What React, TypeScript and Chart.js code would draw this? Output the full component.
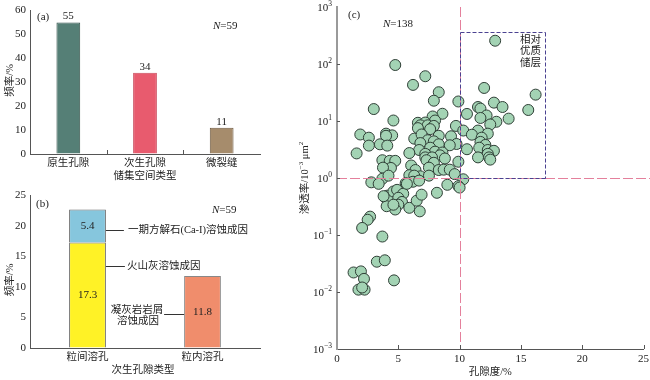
import React, { useEffect, useRef } from 'react';
import { Chart, registerables } from 'chart.js';
Chart.register(...registerables);

const FONT = '"Liberation Serif", "Noto Sans CJK SC", serif';
const TXT = '#222222';
const AXIS = '#555555';

// ---------- Panel (a) ----------
const spaceTypes = ['原生孔隙', '次生孔隙', '微裂缝'];
const spaceFreq = [55, 34, 11];
const spaceColors = ['#557f76', '#e85b6e', '#a68c6c'];
const spaceBorders = ['#33524b', '#c94a5c', '#6f5a40'];

// ---------- Panel (b) ----------
const dissTypes = ['粒间溶孔', '粒内溶孔'];
const volcanicAsh = [17.3, null];
const calciteI = [5.4, null];
const tuffDebris = [null, 11.8];
const calloutCalcite = 19.4;
const calloutAsh = 13.5;
const calloutTuff = 5.6;

// ---------- Panel (c) ----------
const porosity = [
  12.9, 4.75, 7.2, 6.2, 12.0, 8.3, 16.2, 7.9, 9.9, 12.8, 13.5, 11.5, 3.0, 11.7, 15.6, 10.6, 8.6, 12.2, 7.8, 11.7,
  14.0, 4.6, 13.0, 6.6, 7.2, 8.0, 12.5, 6.8, 9.7, 7.4, 7.9, 6.6, 7.6, 10.3, 11.5, 1.9, 4.0, 4.5, 4.0, 11.0,
  8.3, 9.3, 12.3, 2.6, 6.3, 6.9, 11.8, 7.4, 11.7, 7.9, 6.8, 8.3, 3.5, 9.75, 12.1, 2.6, 4.1, 9.2, 11.6, 7.6,
  6.7, 8.0, 10.6, 12.3, 12.8, 1.6, 5.9, 7.2, 8.6, 8.4, 12.3, 7.2, 11.5, 12.4, 7.75, 3.7, 4.3, 4.75, 7.3, 8.8,
  9.9, 12.5, 7.9, 4.4, 3.75, 6.05, 7.5, 8.3, 8.7, 9.2, 6.4, 9.6, 3.7, 4.2, 5.9, 6.8, 7.5, 6.3, 10.3, 2.8,
  3.4, 5.6, 6.2, 9.0, 9.9, 10.0, 4.1, 3.95, 4.3, 4.6, 4.9, 5.4, 5.0, 5.3, 5.0, 4.75, 4.05, 4.6, 5.9, 6.5,
  6.9, 6.75, 8.15, 3.8, 5.7, 6.7, 2.7, 2.5, 2.05, 3.7, 3.25, 3.9, 1.35, 1.95, 2.2, 4.65, 1.75, 2.25, 2.05,
];
const permeability = [
  256, 96, 61, 43, 38, 32, 29, 22.7, 22, 21, 17.6, 17.6, 16.2, 16.5, 15.6, 13.3, 13.4, 12.5, 12, 11.3,
  11, 10.2, 9.7, 9.3, 9.4, 10.2, 8.7, 8.4, 8.2, 8.4, 8.2, 7.5, 7.2, 6.8, 6.8, 5.8, 6.0, 5.6, 5.5, 5.75,
  5.5, 5.4, 6.0, 5.1, 4.9, 5.8, 5.1, 4.6, 4.3, 4.4, 4.1, 3.9, 3.9, 3.95, 3.8, 3.7, 3.7, 3.75, 3.4, 3.4,
  3.1, 2.9, 3.2, 3.1, 3.0, 2.7, 2.74, 2.65, 2.8, 2.5, 2.65, 2.3, 2.3, 2.3, 2.3, 2.05, 2.0, 2.0, 2.05, 2.2,
  1.93, 2.1, 1.85, 1.5, 1.52, 1.66, 1.52, 1.38, 1.4, 1.4, 1.38, 1.17, 0.97, 1.1, 1.12, 1.07, 1.1, 1.1, 0.95, 0.84,
  0.79, 0.81, 0.86, 0.76, 0.72, 0.68, 0.49, 0.45, 0.45, 0.58, 0.62, 0.53, 0.45, 0.38, 0.34, 0.28, 0.32, 0.34, 0.30, 0.40,
  0.51, 0.26, 0.55, 0.48, 0.79, 0.9, 0.21, 0.185, 0.133, 0.094, 0.034, 0.036, 0.022, 0.023, 0.017, 0.016, 0.011, 0.011, 0.012,
];
const permTicks = [0.001, 0.01, 0.1, 1, 10, 100, 1000];
const cutPorosity = 10;
const cutPerm = 1;
const goodBoxPorosity = [10, 17];
const goodBoxPerm = [1, 370];

type Part = { t: string; sup?: boolean };

function partsWidth(ctx: CanvasRenderingContext2D, parts: Part[], size: number, supSize: number) {
  let w = 0;
  for (const p of parts) {
    ctx.font = `${p.sup ? supSize : size}px ${FONT}`;
    w += ctx.measureText(p.t).width;
  }
  return w;
}

function drawParts(ctx: CanvasRenderingContext2D, parts: Part[], x: number, y: number, size: number, supSize: number) {
  ctx.textAlign = 'left';
  ctx.textBaseline = 'middle';
  let cx = x;
  for (const p of parts) {
    ctx.font = `${p.sup ? supSize : size}px ${FONT}`;
    ctx.fillText(p.t, cx, p.sup ? y - size * 0.35 : y);
    cx += ctx.measureText(p.t).width;
  }
}

function drawRotated(ctx: CanvasRenderingContext2D, parts: Part[], cx: number, cy: number, size = 11, supSize = 7.5) {
  ctx.save();
  ctx.translate(cx, cy);
  ctx.rotate(-Math.PI / 2);
  const w = partsWidth(ctx, parts, size, supSize);
  drawParts(ctx, parts, -w / 2, 0, size, supSize);
  ctx.restore();
}

function drawN(ctx: CanvasRenderingContext2D, x: number, y: number, rest: string) {
  ctx.textAlign = 'left';
  ctx.textBaseline = 'middle';
  ctx.font = `italic 11px ${FONT}`;
  ctx.fillText('N', x, y);
  const w = ctx.measureText('N').width;
  ctx.font = `11px ${FONT}`;
  ctx.fillText(rest, x + w, y);
}

function line(ctx: CanvasRenderingContext2D, x1: number, y1: number, x2: number, y2: number) {
  ctx.beginPath();
  ctx.moveTo(x1, y1);
  ctx.lineTo(x2, y2);
  ctx.stroke();
}

const baseAxisFont = { family: FONT, size: 11 };

function makeA(canvas: HTMLCanvasElement) {
  const plugin = {
    id: 'panelA',
    afterDraw(chart: any) {
      const { ctx, chartArea: ca, scales } = chart;
      const x = scales.x;
      ctx.save();
      ctx.strokeStyle = AXIS;
      ctx.lineWidth = 1;
      for (let i = 1; i < spaceTypes.length; i++) {
        const bx = Math.round((x.getPixelForValue(i - 1) + x.getPixelForValue(i)) / 2) + 0.5;
        line(ctx, bx, ca.bottom, bx, ca.bottom - 4);
      }
      ctx.fillStyle = TXT;
      ctx.font = `11px ${FONT}`;
      ctx.textAlign = 'center';
      ctx.textBaseline = 'bottom';
      chart.getDatasetMeta(0).data.forEach((bar: any, i: number) => {
        ctx.fillText(String(spaceFreq[i]), bar.x, bar.y - 0.5);
      });
      drawRotated(ctx, [{ t: '频率/%' }], 10, (ca.top + ca.bottom) / 2 - 2, 10.5);
      ctx.font = `10.5px ${FONT}`;
      ctx.textAlign = 'center';
      ctx.textBaseline = 'middle';
      ctx.fillText('储集空间类型', (ca.left + ca.right) / 2, ca.bottom + 22);
      ctx.font = `11px ${FONT}`;
      ctx.textAlign = 'left';
      ctx.fillText('(a)', ca.left + 7, ca.top + 7);
      drawN(ctx, ca.left + 183, ca.top + 16, '=59');
      ctx.restore();
    },
  };
  return new Chart(canvas, {
    type: 'bar',
    data: {
      labels: spaceTypes,
      datasets: [
        {
          data: spaceFreq,
          backgroundColor: spaceColors,
          borderColor: spaceBorders,
          borderWidth: 1,
          barPercentage: 0.31,
          categoryPercentage: 1,
        },
      ],
    },
    options: {
      responsive: false,
      animation: false,
      layout: { padding: { top: 8, right: 25, left: 0, bottom: 0 } },
      plugins: { legend: { display: false }, tooltip: { enabled: false } },
      scales: {
        x: {
          grid: { drawOnChartArea: false, drawTicks: false },
          border: { color: AXIS },
          ticks: { font: { family: FONT, size: 10.5 }, color: TXT, padding: 3 },
          afterFit: (s: any) => { s.height = 31; s.paddingLeft = 0; s.paddingRight = 0; },
        },
        y: {
          min: 0,
          max: 60,
          ticks: { stepSize: 10, font: baseAxisFont, color: TXT, padding: 4 },
          grid: { drawOnChartArea: false, drawTicks: false },
          border: { color: AXIS },
          afterFit: (s: any) => { s.width = 30; },
        },
      },
    },
    plugins: [plugin],
  } as any);
}

function makeB(canvas: HTMLCanvasElement) {
  const plugin = {
    id: 'panelB',
    afterDraw(chart: any) {
      const { ctx, chartArea: ca, scales } = chart;
      const y = scales.y;
      ctx.save();
      ctx.fillStyle = TXT;
      ctx.font = `11px ${FONT}`;
      ctx.textAlign = 'center';
      ctx.textBaseline = 'middle';
      const vals = [volcanicAsh, calciteI, tuffDebris];
      vals.forEach((arr, d) => {
        chart.getDatasetMeta(d).data.forEach((bar: any, i: number) => {
          const v = arr[i];
          if (v == null) return;
          ctx.fillText(v.toFixed(1), bar.x, (bar.y + bar.base) / 2);
        });
      });
      const bar1 = chart.getDatasetMeta(0).data[0] as any;
      const bar2 = chart.getDatasetMeta(2).data[1] as any;
      const r1 = bar1.x + bar1.width / 2;
      const l2 = bar2.x - bar2.width / 2;
      ctx.strokeStyle = '#333';
      ctx.lineWidth = 1;
      const yc = Math.round(y.getPixelForValue(calloutCalcite)) + 0.5;
      line(ctx, r1, yc, r1 + 18, yc);
      const ya = Math.round(y.getPixelForValue(calloutAsh)) + 0.5;
      line(ctx, r1, ya, r1 + 19, ya);
      const yt = Math.round(y.getPixelForValue(calloutTuff)) + 0.5;
      line(ctx, l2 - 20, yt, l2, yt);
      ctx.font = `10.5px ${FONT}`;
      ctx.textAlign = 'left';
      ctx.fillText('一期方解石(Ca-I)溶蚀成因', r1 + 22, yc);
      ctx.fillText('火山灰溶蚀成因', r1 + 21, ya);
      ctx.textAlign = 'center';
      ctx.fillText('凝灰岩岩屑', l2 - 47, yt - 4);
      ctx.fillText('溶蚀成因', l2 - 46, yt + 7);
      drawRotated(ctx, [{ t: '频率/%' }], 10, (ca.top + ca.bottom) / 2 + 8, 10.5);
      ctx.font = `10.5px ${FONT}`;
      ctx.textAlign = 'center';
      ctx.fillText('次生孔隙类型', (ca.left + ca.right) / 2 - 2, ca.bottom + 22);
      ctx.font = `11px ${FONT}`;
      ctx.textAlign = 'left';
      ctx.fillText('(b)', ca.left + 6, ca.top + 9);
      drawN(ctx, ca.left + 182, ca.top + 15, '=59');
      ctx.restore();
    },
  };
  return new Chart(canvas, {
    type: 'bar',
    data: {
      labels: dissTypes,
      datasets: [
        { data: volcanicAsh, backgroundColor: '#fff226', borderColor: '#666', borderWidth: 1 },
        { data: calciteI, backgroundColor: '#86c6dd', borderColor: '#666', borderWidth: 1 },
        { data: tuffDebris, backgroundColor: '#f08d6c', borderColor: '#888', borderWidth: 1 },
      ].map((d) => ({ ...d, barPercentage: 0.32, categoryPercentage: 1, stack: 's' })),
    },
    options: {
      responsive: false,
      animation: false,
      layout: { padding: { top: 8, right: 25, left: 0, bottom: 0 } },
      plugins: { legend: { display: false }, tooltip: { enabled: false } },
      scales: {
        x: {
          stacked: true,
          grid: { drawOnChartArea: false, drawTicks: false },
          border: { color: AXIS },
          ticks: { font: { family: FONT, size: 10.5 }, color: TXT, padding: 3 },
          afterFit: (s: any) => { s.height = 32; s.paddingLeft = 0; s.paddingRight = 0; },
        },
        y: {
          stacked: true,
          min: 0,
          max: 25,
          ticks: { stepSize: 5, font: baseAxisFont, color: TXT, padding: 4 },
          grid: { drawOnChartArea: false, drawTicks: false },
          border: { color: AXIS },
          afterFit: (s: any) => { s.width = 30; },
        },
      },
    },
    plugins: [plugin],
  } as any);
}

function makeC(canvas: HTMLCanvasElement) {
  const plugin = {
    id: 'panelC',
    afterDatasetsDraw(chart: any) {
      const { ctx, chartArea: ca, scales } = chart;
      const x = scales.x;
      const y = scales.y;
      ctx.save();
      ctx.lineWidth = 1;
      ctx.strokeStyle = '#e4809c';
      ctx.setLineDash([10, 3]);
      const xc = Math.round(x.getPixelForValue(cutPorosity)) + 0.5;
      line(ctx, xc, ca.top, xc, ca.bottom);
      const yc = Math.round(y.getPixelForValue(cutPerm)) + 0.5;
      line(ctx, ca.left, yc, chart.width, yc);
      ctx.strokeStyle = '#4b4291';
      ctx.setLineDash([4, 2]);
      const bx1 = Math.round(x.getPixelForValue(goodBoxPorosity[0])) + 0.5;
      const bx2 = Math.round(x.getPixelForValue(goodBoxPorosity[1])) + 0.5;
      const by1 = Math.round(y.getPixelForValue(goodBoxPerm[0])) + 0.5;
      const by2 = Math.round(y.getPixelForValue(goodBoxPerm[1])) + 0.5;
      line(ctx, bx1, by1, bx1, by2);
      line(ctx, bx1, by2, bx2, by2);
      line(ctx, bx2, by2, bx2, by1);
      line(ctx, bx2, by1, bx1, by1);
      ctx.restore();
    },
    afterDraw(chart: any) {
      const { ctx, chartArea: ca, scales } = chart;
      const x = scales.x;
      const y = scales.y;
      ctx.save();
      ctx.strokeStyle = AXIS;
      ctx.lineWidth = 1;
      for (let v = 5; v <= 25; v += 5) {
        const px = Math.round(x.getPixelForValue(v)) + 0.5;
        line(ctx, px, ca.bottom, px, ca.bottom - 4);
      }
      ctx.fillStyle = TXT;
      for (const t of permTicks) {
        const py = Math.round(y.getPixelForValue(t)) + 0.5;
        if (t > permTicks[0] && t < permTicks[permTicks.length - 1]) {
          line(ctx, ca.left, py, ca.left + 3, py);
        }
        const e = Math.round(Math.log10(t));
        const sup = e < 0 ? '−' + -e : String(e);
        const parts: Part[] = [{ t: '10' }, { t: sup, sup: true }];
        const w = partsWidth(ctx, parts, 11, 7.5);
        drawParts(ctx, parts, ca.left - 5 - w, py + 0.5, 11, 7.5);
      }
      drawRotated(
        ctx,
        [{ t: '渗透率/10' }, { t: '−3', sup: true }, { t: ' μm' }, { t: '2', sup: true }],
        15,
        (ca.top + ca.bottom) / 2,
        10.5,
        7
      );
      ctx.font = `10.5px ${FONT}`;
      ctx.textAlign = 'center';
      ctx.textBaseline = 'middle';
      ctx.fillText('孔隙度/%', (ca.left + ca.right) / 2, ca.bottom + 23);
      ctx.font = `11px ${FONT}`;
      ctx.textAlign = 'left';
      ctx.fillText('(c)', ca.left + 11, ca.top + 8);
      drawN(ctx, ca.left + 46, ca.top + 17, '=138');
      ctx.font = `10.5px ${FONT}`;
      ctx.textAlign = 'center';
      const tx = x.getPixelForValue(goodBoxPorosity[1]) - 15;
      ctx.fillText('相对', tx, ca.top + 33);
      ctx.fillText('优质', tx, ca.top + 44.5);
      ctx.fillText('储层', tx, ca.top + 56);
      ctx.restore();
    },
  };
  return new Chart(canvas, {
    type: 'scatter',
    data: {
      datasets: [
        {
          data: porosity.map((p, i) => ({ x: p, y: permeability[i] })),
          backgroundColor: '#a3d3b4',
          borderColor: '#2f3f36',
          borderWidth: 1,
          pointRadius: 5.5,
        },
      ],
    },
    options: {
      responsive: false,
      animation: false,
      layout: { padding: { top: 7, right: 5, left: 0, bottom: 0 } },
      plugins: { legend: { display: false }, tooltip: { enabled: false } },
      scales: {
        x: {
          type: 'linear',
          min: 0,
          max: 25,
          ticks: { stepSize: 5, font: baseAxisFont, color: TXT, padding: 4 },
          grid: { drawOnChartArea: false, drawTicks: false },
          border: { color: AXIS },
          afterFit: (s: any) => { s.height = 31; s.paddingLeft = 0; s.paddingRight = 0; },
        },
        y: {
          type: 'logarithmic',
          min: 0.001,
          max: 1000,
          ticks: { display: false },
          grid: { drawOnChartArea: false, drawTicks: false },
          border: { color: '#9a9a9a', width: 2 },
          afterFit: (s: any) => { s.width = 47; s.paddingTop = 0; s.paddingBottom = 0; },
        },
      },
    },
    plugins: [plugin],
  } as any);
}

export default function App() {
  const refA = useRef<HTMLCanvasElement>(null);
  const refB = useRef<HTMLCanvasElement>(null);
  const refC = useRef<HTMLCanvasElement>(null);
  useEffect(() => {
    const charts = [makeA(refA.current!), makeB(refB.current!), makeC(refC.current!)];
    return () => charts.forEach((c) => c.destroy());
  }, []);
  return (
    <div style={{ position: 'absolute', left: 0, top: 0, width: 650, height: 380, background: '#fff', overflow: 'hidden' }}>
      <canvas ref={refA} width={285} height={185} style={{ position: 'absolute', left: 0, top: 0 }} />
      <canvas ref={refB} width={285} height={195} style={{ position: 'absolute', left: 0, top: 185 }} />
      <canvas ref={refC} width={360} height={380} style={{ position: 'absolute', left: 290, top: 0 }} />
    </div>
  );
}
